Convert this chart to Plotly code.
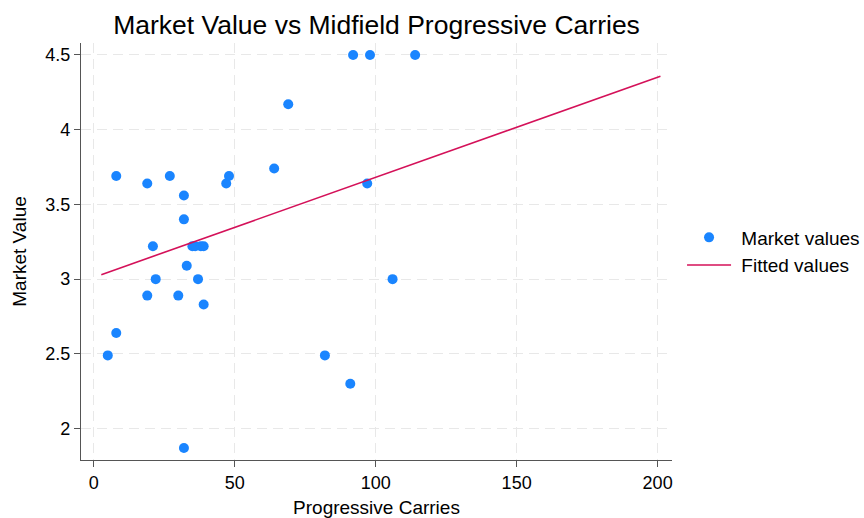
import plotly.graph_objects as go

# Data
carries = [5, 8, 8, 19, 19, 21, 22, 27, 30, 32, 32, 33, 35, 36, 38, 39, 37, 39, 32,
           47, 48, 64, 69, 82, 91, 92, 98, 97, 106, 114]
market_value = [2.49, 2.64, 3.69, 3.64, 2.89, 3.22, 3.00, 3.69, 2.89, 3.56, 3.40, 3.09,
                3.22, 3.22, 3.22, 3.22, 3.00, 2.83, 1.87, 3.64, 3.69, 3.74, 4.17, 2.49,
                2.30, 4.50, 4.50, 3.64, 3.00, 4.50]
fit_x = [2.7, 201]
fit_y = [3.03, 4.357]

x_ticks = [0, 50, 100, 150, 200]
y_ticks = [2, 2.5, 3, 3.5, 4, 4.5]
y_tick_labels = ["2", "2.5", "3", "3.5", "4", "4.5"]
series_names = ["Market values", "Fitted values"]

FONT = "Liberation Sans, Arial, Helvetica, sans-serif"

fig = go.Figure()
fig.add_trace(go.Scatter(
    x=carries, y=market_value, mode="markers", name="\u00a0" + series_names[0],
    marker=dict(color="#1a85ff", size=10, line=dict(width=0)),
))
fig.add_trace(go.Scatter(
    x=fit_x, y=fit_y, mode="lines", name="\u00a0" + series_names[1],
    line=dict(color="#d41159", width=1.6),
))

axis_common = dict(
    showgrid=True, gridcolor="#e8e8e8", griddash="10px,6px", gridwidth=1.2,
    zeroline=False, showline=True, linecolor="#555555", linewidth=1.3,
    ticks="outside", ticklen=6, tickcolor="#555555", tickwidth=1.3,
    tickfont=dict(family=FONT, size=18, color="#000000"),
    automargin=False,
)

fig.update_layout(
    width=864, height=518,
    margin=dict(l=81, r=192, t=43, b=58, autoexpand=False),
    paper_bgcolor="white", plot_bgcolor="white",
    title=dict(text="Market Value vs Midfield Progressive Carries",
               font=dict(family=FONT, size=26.5, color="#000000"),
               x=0.5, xref="paper", xanchor="center",
               y=1 - 25 / 518, yanchor="middle", automargin=False),
    xaxis=dict(range=[-4.5, 205.1], tickvals=x_ticks, **axis_common,
               title=dict(text="Progressive Carries",
                          font=dict(family=FONT, size=19, color="#000000"),
                          standoff=8)),
    yaxis=dict(range=[1.79, 4.58], tickvals=y_ticks, ticktext=y_tick_labels,
               **axis_common,
               title=dict(text="Market Value",
                          font=dict(family=FONT, size=19, color="#000000"),
                          standoff=13)),
    legend=dict(x=1.017, y=0.50, xanchor="left", yanchor="middle",
                font=dict(family=FONT, size=19, color="#000000"),
                bgcolor="rgba(0,0,0,0)", tracegroupgap=0, itemwidth=44),
    showlegend=True,
)

fig.write_html("out.html")
